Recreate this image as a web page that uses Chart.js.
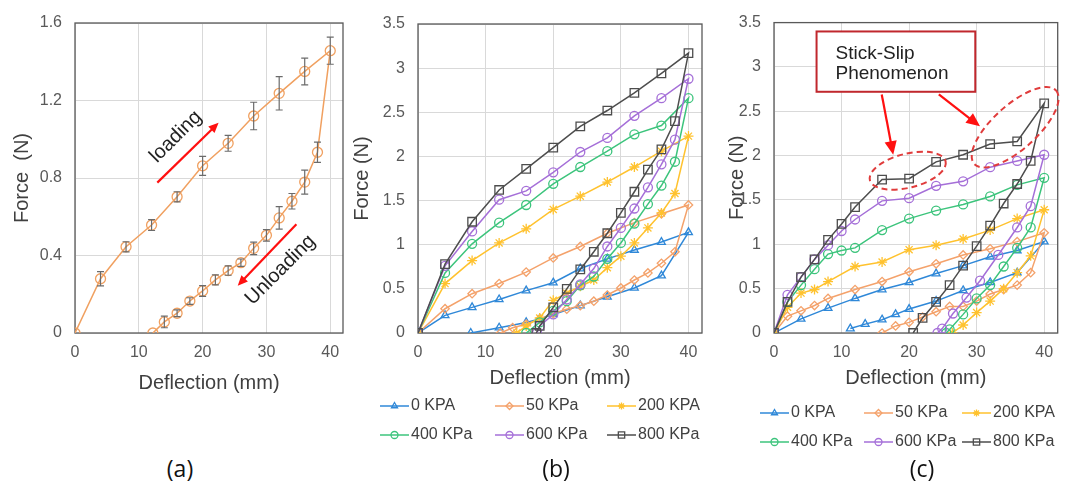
<!DOCTYPE html>
<html>
<head>
<meta charset="utf-8">
<script src="https://cdn.jsdelivr.net/npm/chart.js@4.4.1/dist/chart.umd.min.js"></script>
<style>
  body { margin: 0; width: 1065px; height: 486px; background: #fff; position: relative; overflow: hidden; }
  .panel { position: absolute; top: 0; }
  .panel canvas { display: block; }
  .tag { position: absolute; top: 455px; width: 60px; margin-left: -30px; text-align: center;
         font-family: "Open Sans", "Noto Sans", sans-serif; font-size: 23px; line-height: 26px; color: #111; }
</style>
</head>
<body>
<div class="panel" style="left:0px"><canvas id="chartA" width="360" height="400"></canvas></div>
<div class="panel" style="left:345px"><canvas id="chartB" width="365" height="460"></canvas></div>
<div class="panel" style="left:715px"><canvas id="chartC" width="350" height="460"></canvas></div>
<div class="tag" style="left:180px">(a)</div>
<div class="tag" style="left:556px">(b)</div>
<div class="tag" style="left:922px">(c)</div>

<script>
// --- Panel (a): single sample, loading / unloading with error bars ---
const aLoadX = [0, 4, 8, 12, 16, 20, 24, 28, 32, 36, 40];
const aLoadY = [0, 0.28, 0.445, 0.557, 0.703, 0.863, 0.979, 1.12, 1.237, 1.35, 1.457];
const aLoadErr = [0, 0.037, 0.026, 0.028, 0.026, 0.049, 0.041, 0.071, 0.086, 0.069, 0.07];
const aUnloadX = [38, 36, 34, 32, 30, 28, 26, 24, 22, 20, 18, 16, 14, 12.2];
const aUnloadY = [0.933, 0.779, 0.68, 0.594, 0.504, 0.437, 0.363, 0.322, 0.274, 0.217, 0.165, 0.102, 0.057, 0];
const aUnloadErr = [0.052, 0.062, 0.04, 0.058, 0.03, 0.032, 0.019, 0.024, 0.026, 0.028, 0.017, 0.017, 0.03, 0];

// --- Panel (b) ---
const seriesLabels = ["0 KPA", "50 KPa", "200 KPA", "400 KPa", "600 KPa", "800 KPa"];
const bLoadX = [0, 4, 8, 12, 16, 20, 24, 28, 32, 36, 40];
const b0Load = [0, 0.20, 0.29, 0.38, 0.48, 0.57, 0.73, 0.84, 0.94, 1.03, 1.14];
const b0UnloadX = [36, 32, 28, 24, 20, 18, 16, 12, 7.8];
const b0Unload = [0.65, 0.51, 0.41, 0.31, 0.21, 0.16, 0.12, 0.06, 0];
const b50Load = [0, 0.275, 0.445, 0.56, 0.69, 0.85, 0.98, 1.13, 1.25, 1.35, 1.45];
const b50UnloadX = [38, 36, 34, 32, 30, 28, 26, 24, 22, 20, 18, 16, 14, 12.2];
const b50Unload = [0.92, 0.79, 0.68, 0.60, 0.51, 0.43, 0.36, 0.31, 0.27, 0.22, 0.16, 0.10, 0.06, 0];
const b200Load = [0, 0.56, 0.82, 1.02, 1.18, 1.40, 1.55, 1.71, 1.88, 2.06, 2.23];
const b200UnloadX = [38, 36, 34, 32, 30, 28, 26, 24, 22, 20, 18, 16, 14.6];
const b200Unload = [1.58, 1.36, 1.19, 1.02, 0.87, 0.74, 0.60, 0.53, 0.45, 0.37, 0.17, 0.08, 0];
const b400Load = [0, 0.68, 1.01, 1.25, 1.45, 1.69, 1.88, 2.06, 2.25, 2.35, 2.66];
const b400UnloadX = [38, 36, 34, 32, 30, 28, 26, 24, 22, 20, 18, 16];
const b400Unload = [1.94, 1.67, 1.46, 1.24, 1.02, 0.84, 0.64, 0.54, 0.36, 0.25, 0.12, 0];
const b600Load = [0, 0.76, 1.15, 1.51, 1.61, 1.82, 2.05, 2.21, 2.46, 2.66, 2.88];
const b600UnloadX = [38, 36, 34, 32, 30, 28, 26, 24, 22, 20, 18, 17.6];
const b600Unload = [2.19, 1.91, 1.65, 1.41, 1.19, 0.98, 0.73, 0.55, 0.38, 0.21, 0.08, 0];
const b800Load = [0, 0.78, 1.26, 1.62, 1.86, 2.10, 2.34, 2.52, 2.72, 2.94, 3.17];
const b800UnloadX = [38, 36, 34, 32, 30, 28, 26, 24, 22, 20, 18, 17.5];
const b800Unload = [2.40, 2.08, 1.85, 1.60, 1.36, 1.13, 0.92, 0.72, 0.50, 0.29, 0.08, 0];

// --- Panel (c) ---
const c0LoadX = [0, 4, 8, 12, 16, 20, 24, 28, 32, 36, 40];
const c0Load = [0, 0.16, 0.28, 0.39, 0.49, 0.57, 0.67, 0.76, 0.86, 0.93, 1.03];
const c0UnloadX = [36, 32, 28, 24, 20, 18, 16, 13.5, 11.3];
const c0Unload = [0.68, 0.57, 0.48, 0.36, 0.27, 0.21, 0.15, 0.10, 0.05];
const c50LoadX = [0, 2, 4, 6, 8, 12, 16, 20, 24, 28, 32, 36, 40];
const c50Load = [0, 0.19, 0.25, 0.31, 0.39, 0.49, 0.58, 0.69, 0.78, 0.88, 0.95, 1.03, 1.13];
const c50UnloadX = [38, 36, 34, 32, 30, 28, 26, 24, 22, 20, 18, 16];
const c50Unload = [0.68, 0.54, 0.49, 0.44, 0.36, 0.30, 0.30, 0.24, 0.18, 0.12, 0.08, 0];
const c200LoadX = [0, 2, 4, 6, 8, 12, 16, 20, 24, 28, 32, 36, 40];
const c200Load = [0, 0.29, 0.45, 0.49, 0.58, 0.75, 0.80, 0.94, 0.99, 1.06, 1.16, 1.29, 1.39];
const c200UnloadX = [38, 36, 34, 32, 30, 28, 26.4];
const c200Unload = [0.87, 0.68, 0.50, 0.36, 0.23, 0.09, 0];
const c400LoadX = [0, 2, 4, 6, 8, 10, 12, 16, 20, 24, 28, 32, 36, 40];
const c400Load = [0, 0.35, 0.54, 0.72, 0.89, 0.93, 0.96, 1.16, 1.29, 1.38, 1.45, 1.54, 1.67, 1.75];
const c400UnloadX = [38, 36, 34, 32, 30, 28, 26, 25.5];
const c400Unload = [1.19, 0.96, 0.75, 0.54, 0.39, 0.21, 0.04, 0];
const c600LoadX = [0, 2, 4, 6, 8, 10, 12, 16, 20, 24, 28, 32, 36, 40];
const c600Load = [0, 0.43, 0.63, 0.83, 0.99, 1.15, 1.28, 1.49, 1.52, 1.66, 1.71, 1.87, 1.94, 2.01];
const c600UnloadX = [38, 36, 33.2, 30.5, 28.5, 26.5, 24.9, 24.2];
const c600Unload = [1.43, 1.19, 0.88, 0.59, 0.40, 0.22, 0.05, 0];
const c800LoadX = [0, 2, 4, 6, 8, 10, 12, 16, 20, 24, 28, 32, 36, 40];
const c800Load = [0, 0.35, 0.63, 0.83, 1.05, 1.23, 1.42, 1.73, 1.74, 1.93, 2.01, 2.13, 2.16, 2.59];
const c800UnloadX = [38, 36, 34, 32, 30, 28, 26, 24, 22, 20.6];
const c800Unload = [1.94, 1.68, 1.46, 1.21, 0.98, 0.76, 0.54, 0.35, 0.17, 0];

const colors = ["#2F88D8", "#F4A26B", "#FFC22E", "#3CC47C", "#A56FD8", "#4D4D4D"];
const markers = ["triangle", "rectRot", "star", "circle", "circle", "rect"];
const markerSize = [4.5, 4.2, 5, 4.5, 4.5, 6];

const FONT = '"Liberation Sans", Arial, sans-serif';

// join loading and unloading branches into one path
function path(lx, ly, ux, uy) {
  const pts = lx.map((x, i) => ({ x: x, y: ly[i] }));
  ux.forEach((x, i) => pts.push({ x: x, y: uy[i] }));
  return pts;
}

function series(i, pts) {
  return {
    label: seriesLabels[i],
    data: pts,
    borderColor: colors[i],
    borderWidth: 1.5,
    pointStyle: markers[i],
    pointRadius: markerSize[i],
    pointBorderWidth: 1.3,
    pointBorderColor: colors[i],
    pointBackgroundColor: "rgba(255,255,255,0)",
    backgroundColor: "rgba(255,255,255,0)",
    order: 5 - i,
  };
}

function arrow(ctx, x1, y1, x2, y2, color, w, head) {
  const a = Math.atan2(y2 - y1, x2 - x1);
  ctx.strokeStyle = color;
  ctx.fillStyle = color;
  ctx.lineWidth = w;
  ctx.beginPath();
  ctx.moveTo(x1, y1);
  ctx.lineTo(x2 - head * 0.8 * Math.cos(a), y2 - head * 0.8 * Math.sin(a));
  ctx.stroke();
  ctx.beginPath();
  ctx.moveTo(x2, y2);
  ctx.lineTo(x2 - head * Math.cos(a - 0.42), y2 - head * Math.sin(a - 0.42));
  ctx.lineTo(x2 - head * Math.cos(a + 0.42), y2 - head * Math.sin(a + 0.42));
  ctx.closePath();
  ctx.fill();
}

// --- Plugins ---
const frame = {
  id: "frame",
  beforeDatasetsDraw(chart) {
    const { ctx, chartArea: c } = chart;
    ctx.save();
    ctx.strokeStyle = "#595959";
    ctx.lineWidth = 1.3;
    ctx.strokeRect(c.left, c.top, c.right - c.left, c.bottom - c.top);
    ctx.restore();
  },
};

const errorBars = {
  id: "errorBars",
  afterDatasetsDraw(chart, args, opts) {
    if (!opts.errors) return;
    const { ctx, scales } = chart;
    const pts = chart.data.datasets[0].data;
    ctx.save();
    ctx.strokeStyle = "#6b6b6b";
    ctx.lineWidth = 1.2;
    pts.forEach((p, i) => {
      const e = opts.errors[i];
      if (!e) return;
      const x = scales.x.getPixelForValue(p.x);
      const y1 = scales.y.getPixelForValue(p.y - e);
      const y2 = scales.y.getPixelForValue(p.y + e);
      ctx.beginPath();
      ctx.moveTo(x, y1); ctx.lineTo(x, y2);
      ctx.moveTo(x - 3.5, y1); ctx.lineTo(x + 3.5, y1);
      ctx.moveTo(x - 3.5, y2); ctx.lineTo(x + 3.5, y2);
      ctx.stroke();
    });
    ctx.restore();
  },
};

const notes = {
  id: "notes",
  afterDatasetsDraw(chart, args, opts) {
    const { ctx, scales } = chart;
    const px = (v) => scales.x.getPixelForValue(v);
    const py = (v) => scales.y.getPixelForValue(v);
    ctx.save();
    (opts.boxes || []).forEach((b) => {
      const x1 = px(b.from[0]), y1 = py(b.from[1]);
      const x2 = px(b.to[0]), y2 = py(b.to[1]);
      ctx.fillStyle = "#fff";
      ctx.fillRect(x1, y1, x2 - x1, y2 - y1);
      ctx.strokeStyle = "#C0272D";
      ctx.lineWidth = 2;
      ctx.strokeRect(x1, y1, x2 - x1, y2 - y1);
    });
    (opts.ellipses || []).forEach((e) => {
      ctx.strokeStyle = "#E03C3C";
      ctx.lineWidth = 2;
      ctx.setLineDash([6, 4]);
      ctx.beginPath();
      ctx.ellipse(px(e.at[0]), py(e.at[1]), e.rx, e.ry, (e.rot * Math.PI) / 180, 0, Math.PI * 2);
      ctx.stroke();
      ctx.setLineDash([]);
    });
    (opts.arrows || []).forEach((a) => {
      arrow(ctx, px(a.from[0]), py(a.from[1]), px(a.to[0]), py(a.to[1]), "#FF1010", a.width, a.head);
    });
    (opts.labels || []).forEach((t) => {
      ctx.save();
      ctx.translate(px(t.at[0]), py(t.at[1]));
      ctx.rotate(((t.rot || 0) * Math.PI) / 180);
      ctx.fillStyle = "#222";
      ctx.font = t.size + "px " + FONT;
      ctx.textAlign = t.align || "center";
      ctx.textBaseline = "middle";
      ctx.fillText(t.text, 0, 0);
      ctx.restore();
    });
    ctx.restore();
  },
};

const legendGrid = {
  id: "legendGrid",
  afterDraw(chart, args, opts) {
    if (!opts.cols) return;
    const ctx = chart.ctx;
    ctx.save();
    chart.data.datasets.forEach((ds, i) => {
      const x = opts.cols[i % 3];
      const y = opts.rows[Math.floor(i / 3)];
      ctx.strokeStyle = ds.borderColor;
      ctx.lineWidth = 1.5;
      ctx.beginPath();
      ctx.moveTo(x, y);
      ctx.lineTo(x + 29, y);
      ctx.stroke();
      ctx.fillStyle = "rgba(255,255,255,0)";
      ctx.lineWidth = 1.3;
      const r = ds.pointStyle === "rect" ? 4.5 : 3.5;
      Chart.helpers.drawPoint(ctx, { pointStyle: ds.pointStyle, radius: r, borderWidth: 1.3, rotation: 0 }, x + 14.5, y);
      ctx.fillStyle = "#404040";
      ctx.font = "16px " + FONT;
      ctx.textAlign = "left";
      ctx.textBaseline = "middle";
      ctx.fillText(ds.label, x + 31, y);
    });
    ctx.restore();
  },
};

function makeChart(id, datasets, cfg) {
  const tickFont = { family: FONT, size: 16 };
  const titleFont = { family: FONT, size: 20 };
  return new Chart(document.getElementById(id), {
    type: "line",
    data: { datasets: datasets },
    plugins: [frame, errorBars, notes, legendGrid],
    options: {
      responsive: false,
      animation: false,
      layout: { padding: cfg.pad },
      plugins: {
        legend: { display: false },
        tooltip: { enabled: false },
        errorBars: cfg.errorBars || {},
        notes: cfg.notes || {},
        legendGrid: cfg.legend || {},
      },
      scales: {
        x: {
          type: "linear",
          min: 0,
          max: 42,
          ticks: { stepSize: 10, includeBounds: false, padding: 10, font: tickFont, color: "#595959" },
          grid: { color: "#D9D9D9", drawTicks: false },
          border: { display: false },
          title: { display: true, text: "Deflection (mm)", font: titleFont, color: "#404040", padding: { top: 0, bottom: cfg.xTitlePad } },
          afterFit: (s) => { s.height = cfg.xH; },
        },
        y: {
          type: "linear",
          min: 0,
          max: cfg.yMax,
          ticks: {
            stepSize: cfg.yStep,
            padding: 13,
            font: tickFont,
            color: "#595959",
            callback: (v) => String(+v.toFixed(2)),
          },
          grid: { color: "#D9D9D9", drawTicks: false },
          border: { display: false },
          title: { display: true, text: cfg.yTitle, font: titleFont, color: "#404040", padding: { top: cfg.yTitlePad, bottom: 0 } },
          afterFit: (s) => { s.width = cfg.yW; },
        },
      },
    },
  });
}

// Panel (a)
makeChart(
  "chartA",
  [{
    label: "Force",
    data: path(aLoadX, aLoadY, aUnloadX, aUnloadY),
    borderColor: "#F0A060",
    borderWidth: 1.5,
    pointStyle: "circle",
    pointRadius: 5,
    pointBorderWidth: 1.3,
    pointBorderColor: "#F0A060",
    pointBackgroundColor: "rgba(255,255,255,0)",
  }],
  {
    pad: { left: 0, right: 17, top: 23, bottom: 0 },
    xH: 67, xTitlePad: 5, yW: 75, yTitlePad: 10,
    yMax: 1.6, yStep: 0.4, yTitle: "Force  (N)",
    errorBars: { errors: aLoadErr.concat(aUnloadErr) },
    notes: {
      arrows: [
        { from: [12.9, 0.776], to: [22.5, 1.085], width: 2.2, head: 11 },
        { from: [34.7, 0.561], to: [25.5, 0.244], width: 2.2, head: 11 },
      ],
      labels: [
        { at: [15.8, 1.013], text: "loading", size: 20, rot: -45 },
        { at: [32.2, 0.325], text: "Unloading", size: 20, rot: -45 },
      ],
    },
  }
);

// Panel (b)
makeChart(
  "chartB",
  [
    series(0, path(bLoadX, b0Load, b0UnloadX, b0Unload)),
    series(1, path(bLoadX, b50Load, b50UnloadX, b50Unload)),
    series(2, path(bLoadX, b200Load, b200UnloadX, b200Unload)),
    series(3, path(bLoadX, b400Load, b400UnloadX, b400Unload)),
    series(4, path(bLoadX, b600Load, b600UnloadX, b600Unload)),
    series(5, path(bLoadX, b800Load, b800UnloadX, b800Unload)),
  ],
  {
    pad: { left: 0, right: 8, top: 24, bottom: 60 },
    xH: 67, xTitlePad: 10, yW: 73, yTitlePad: 5,
    yMax: 3.5, yStep: 0.5, yTitle: "Force (N)",
    legend: { cols: [35, 150, 262], rows: [406, 435] },
  }
);

// Panel (c)
makeChart(
  "chartC",
  [
    series(0, path(c0LoadX, c0Load, c0UnloadX, c0Unload)),
    series(1, path(c50LoadX, c50Load, c50UnloadX, c50Unload)),
    series(2, path(c200LoadX, c200Load, c200UnloadX, c200Unload)),
    series(3, path(c400LoadX, c400Load, c400UnloadX, c400Unload)),
    series(4, path(c600LoadX, c600Load, c600UnloadX, c600Unload)),
    series(5, path(c800LoadX, c800Load, c800UnloadX, c800Unload)),
  ],
  {
    pad: { left: 0, right: 4, top: 20, bottom: 60 },
    xH: 67, xTitlePad: 10, yW: 59, yTitlePad: 10,
    yMax: 3.5, yStep: 0.5, yTitle: "Force (N)",
    legend: { cols: [45, 149, 247], rows: [413, 442] },
    notes: {
      boxes: [{ from: [6.3, 3.40], to: [29.8, 2.72] }],
      ellipses: [
        { at: [19.8, 1.83], rx: 39, ry: 17, rot: -14 },
        { at: [35.7, 2.32], rx: 55, ry: 22, rot: -42 },
      ],
      arrows: [
        { from: [15.95, 2.69], to: [17.65, 2.01], width: 2.2, head: 15 },
        { from: [24.4, 2.69], to: [30.5, 2.33], width: 2.2, head: 15 },
      ],
      labels: [
        { at: [9.1, 3.15], text: "Stick-Slip", size: 19, align: "left" },
        { at: [9.1, 2.92], text: "Phenomenon", size: 19, align: "left" },
      ],
    },
  }
);
</script>
</body>
</html>
